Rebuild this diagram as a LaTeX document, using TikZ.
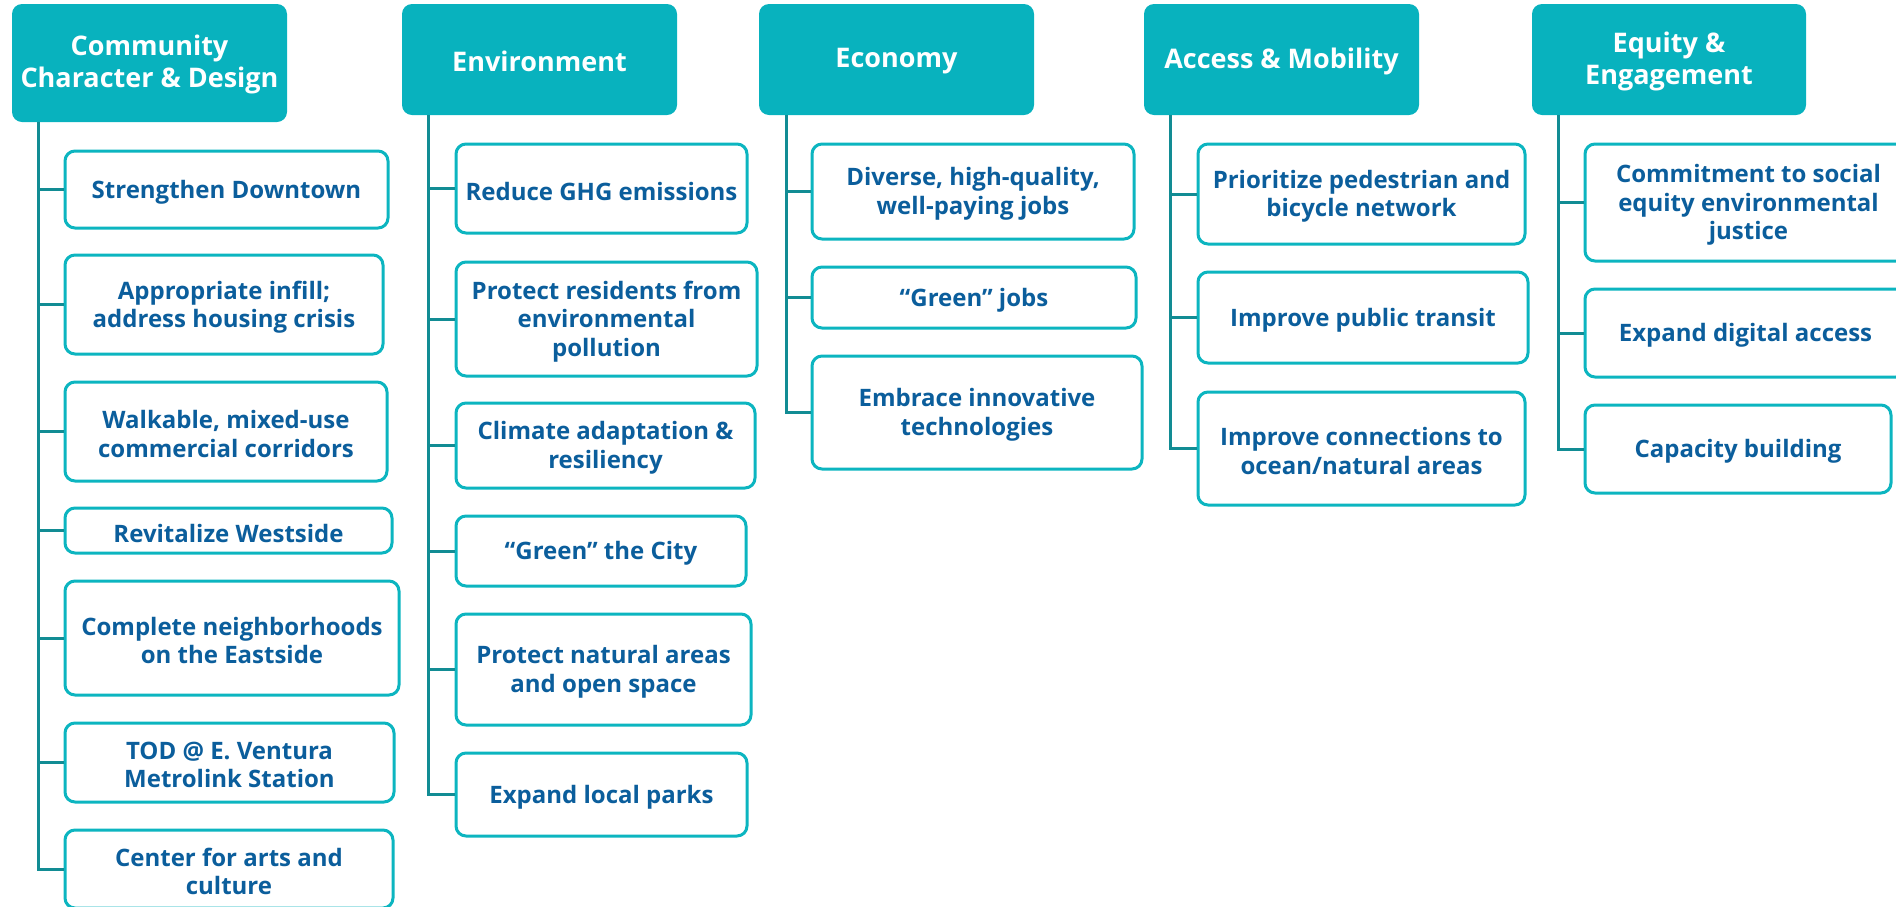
\documentclass[tikz,border=0pt]{standalone}
\usepackage{fontspec}
\setmainfont{Open Sans}
\definecolor{hdr}{HTML}{08B2BE}
\definecolor{bord}{HTML}{0CB5C0}
\definecolor{txt}{HTML}{0B5E9C}
\definecolor{trunkc}{HTML}{128C94}
\tikzset{
 hdrbox/.style={fill=hdr, draw=none, rounded corners=10pt, inner sep=0pt},
 hdrtext/.style={text=white, font=\bfseries\fontsize{27}{32}\selectfont, align=center, inner sep=0pt, yshift=-1.5pt},
 itembox/.style={draw=bord, line width=3pt, fill=white, rounded corners=10pt, inner sep=0pt},
 itemtext/.style={text=txt, font=\bfseries\fontsize{24}{28.5}\selectfont, align=center, inner sep=0pt, yshift=-2.5pt},
 conn/.style={draw=trunkc, line width=3pt},
}
\newcommand\mkbox[8]{\node[#1, minimum width={(#5-#3)*1pt}, minimum height={(#6-#4)*1pt}] (#2) at ({(#3+#5)/2},{(#4+#6)/2}) {};
\node[#7] (#2-t) at (#2.center) {#8};}
\begin{document}
\begin{tikzpicture}[x=1pt,y=-1pt]
\useasboundingbox (0,0) rectangle (1896,906);
\clip (0,0) rectangle (1896,906);
% headers
\mkbox{hdrbox}{h1}{12}{4}{287}{122}{hdrtext}{Community\\Character \& Design}
\mkbox{hdrbox}{h2}{402}{4}{677}{115}{hdrtext}{Environment}
\mkbox{hdrbox}{h3}{759}{4}{1034}{115}{hdrtext}{Economy}
\mkbox{hdrbox}{h4}{1144}{4}{1419}{115}{hdrtext}{Access \& Mobility}
\mkbox{hdrbox}{h5}{1532}{4}{1806}{115}{hdrtext}{Equity \&\\Engagement}
% column 1
\mkbox{itembox}{a1}{65}{151}{388}{228}{itemtext}{Strengthen Downtown}
\mkbox{itembox}{a2}{65}{255}{383}{354}{itemtext}{Appropriate infill;\\address housing crisis}
\mkbox{itembox}{a3}{65}{382}{387}{481}{itemtext}{Walkable, mixed-use\\commercial corridors}
\mkbox{itembox}{a4}{65}{508}{392}{553}{itemtext}{Revitalize Westside}
\mkbox{itembox}{a5}{65}{581}{399}{695}{itemtext}{Complete neighborhoods\\on the Eastside}
\mkbox{itembox}{a6}{65}{723}{394}{802}{itemtext}{TOD @ E. Ventura\\Metrolink Station}
\mkbox{itembox}{a7}{65}{830}{393}{908}{itemtext}{Center for arts and\\culture}
% column 2
\mkbox{itembox}{b1}{456}{144}{747}{233}{itemtext}{Reduce GHG emissions}
\mkbox{itembox}{b2}{456}{262}{757}{376}{itemtext}{Protect residents from\\environmental\\pollution}
\mkbox{itembox}{b3}{456}{403}{755}{488}{itemtext}{Climate adaptation \&\\resiliency}
\mkbox{itembox}{b4}{456}{516}{746}{586}{itemtext}{“Green” the City}
\mkbox{itembox}{b5}{456}{614}{751}{725}{itemtext}{Protect natural areas\\and open space}
\mkbox{itembox}{b6}{456}{753}{747}{836}{itemtext}{Expand local parks}
% column 3
\mkbox{itembox}{c1}{812}{144}{1134}{239}{itemtext}{Diverse, high-quality,\\well-paying jobs}
\mkbox{itembox}{c2}{812}{267}{1136}{328}{itemtext}{“Green” jobs}
\mkbox{itembox}{c3}{812}{356}{1142}{469}{itemtext}{Embrace innovative\\technologies}
% column 4
\mkbox{itembox}{d1}{1198}{144}{1525}{244}{itemtext}{Prioritize pedestrian and\\bicycle network}
\mkbox{itembox}{d2}{1198}{272}{1528}{363}{itemtext}{Improve public transit}
\mkbox{itembox}{d3}{1198}{392}{1525}{505}{itemtext}{Improve connections to\\ocean/natural areas}
% column 5
\mkbox{itembox}{e1}{1585}{144}{1912}{261}{itemtext}{Commitment to social\\equity environmental\\justice}
\mkbox{itembox}{e2}{1585}{289}{1906}{377}{itemtext}{Expand digital access}
\mkbox{itembox}{e3}{1585}{405}{1891}{493}{itemtext}{Capacity building}
% trunks
\coordinate (t1) at (38,122);
\coordinate (t2) at (428,115);
\coordinate (t3) at (786,115);
\coordinate (t4) at (1170,115);
\coordinate (t5) at (1558,115);
\draw[conn] (t1) |- (a7.west);
\foreach \n in {a1,a2,a3,a4,a5,a6} \draw[conn] (t1 |- \n.west) -- (\n.west);
\draw[conn] (t2) |- (b6.west);
\foreach \n in {b1,b2,b3,b4,b5} \draw[conn] (t2 |- \n.west) -- (\n.west);
\draw[conn] (t3) |- (c3.west);
\foreach \n in {c1,c2} \draw[conn] (t3 |- \n.west) -- (\n.west);
\draw[conn] (t4) |- (d3.west);
\foreach \n in {d1,d2} \draw[conn] (t4 |- \n.west) -- (\n.west);
\draw[conn] (t5) |- (e3.west);
\foreach \n in {e1,e2} \draw[conn] (t5 |- \n.west) -- (\n.west);
\end{tikzpicture}
\end{document}
